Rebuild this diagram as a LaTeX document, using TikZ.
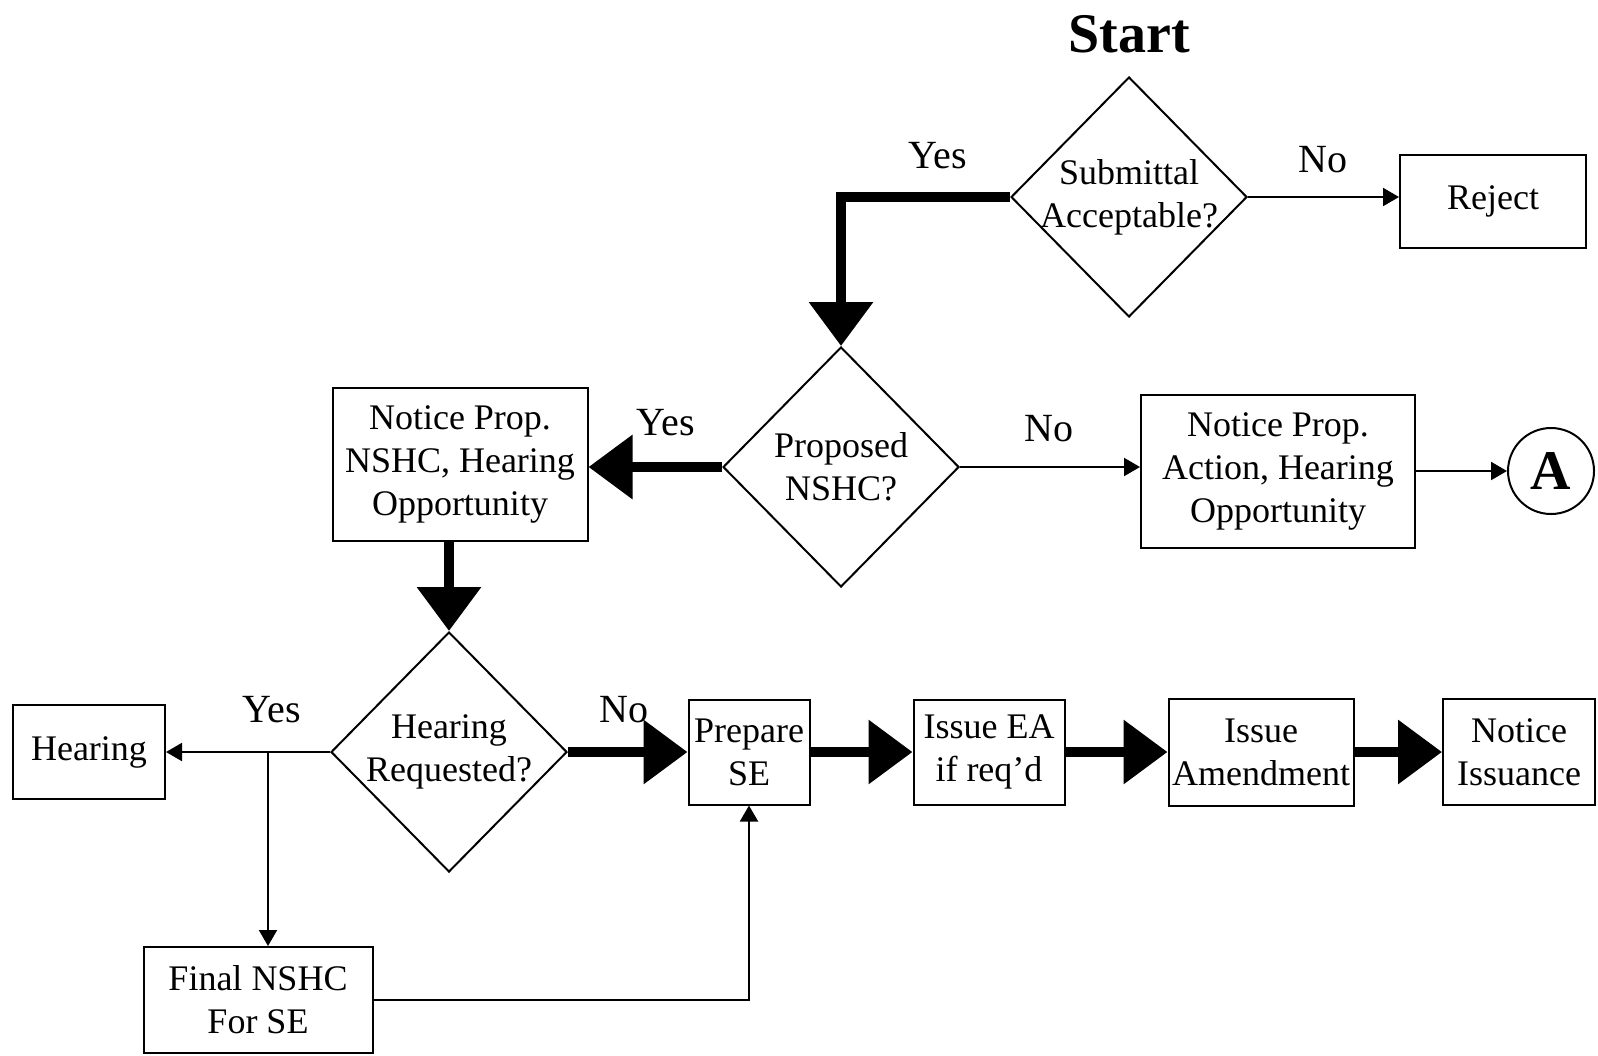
\documentclass[tikz,border=0pt]{standalone}
\usepackage{fontspec}
\setmainfont{Liberation Serif}
\usetikzlibrary{arrows.meta,shapes.geometric}

\begin{document}
\begin{tikzpicture}[
    x=0.5pt, y=-0.5pt,
    box/.style={draw, line width=1pt, align=center, inner sep=1pt, font=\fontsize{18}{21.5}\selectfont},
    decision/.style={draw, diamond, line width=1pt, inner sep=0pt, minimum width=118pt, minimum height=120pt},
    qtext/.style={align=center, font=\fontsize{18}{21.5}\selectfont},
    tag/.style={font=\fontsize{20}{20}\selectfont},
    arr/.style={-{Triangle[length=8pt,width=9pt]}, line width=1pt},
    heavy/.style={-{Triangle[length=22pt,width=31pt]}, line width=5pt}
  ]
  \useasboundingbox (0,0) rectangle (1598,1055);

  \node[font=\fontsize{28}{28}\selectfont\bfseries] (start) at (1129,34) {Start};
  \node[decision, label={[qtext]center:{Submittal\\Acceptable?}}] (submit) at (1129,197) {};
  \node[box, minimum width=93pt, minimum height=46.5pt] (reject) at (1493,201) {Reject};

  \node[decision, label={[qtext]center:{Proposed\\NSHC?}}] (propnshc) at (841,467) {};
  \node[box, minimum width=127.5pt, minimum height=76.5pt] (noticenshc) at (460,464) {Notice Prop.\\NSHC, Hearing\\Opportunity};
  \node[box, minimum width=137pt, minimum height=76.5pt] (noticeact) at (1278,471) {Notice Prop.\\Action, Hearing\\Opportunity};
  \node[draw, circle, line width=1pt, minimum size=43pt, inner sep=0pt, font=\fontsize{28}{28}\selectfont\bfseries] (conA) at (1551,471) {A};

  \node[decision, label={[qtext]center:{Hearing\\Requested?}}] (hearreq) at (449,752) {};
  \node[box, minimum width=76pt, minimum height=47pt] (hearing) at (89,752) {Hearing};
  \node[box, minimum width=114.5pt, minimum height=53pt] (finalnshc) at (258,1000) {Final NSHC\\For SE};
  \node[box, minimum width=60.5pt, minimum height=52.5pt] (prepare) at (749,752) {Prepare\\SE};
  \node[box, minimum width=75.5pt, minimum height=52.5pt] (issueea) at (989,752) {Issue EA\\if req'd};
  \node[box, minimum width=92.5pt, minimum height=53.5pt] (amend) at (1261,752) {Issue\\Amendment};
  \node[box, minimum width=76pt, minimum height=53pt] (issuance) at (1519,752) {Notice\\Issuance};

  % branch labels
  \node[tag] (yes1) at (938,156) {Yes};
  \node[tag] (no1) at (1323,160) {No};
  \node[tag] (yes2) at (666,423) {Yes};
  \node[tag] (no2) at (1049,429) {No};
  \node[tag] (yes3) at (272,710) {Yes};
  \node[tag] (no3) at (624,710) {No};

  \coordinate (split) at (268,752);

  \draw[heavy] (submit.west) -| (propnshc.north);
  \draw[arr] (submit.east) -- (submit.east -| reject.west);
  \draw[heavy] (propnshc.west) -- (propnshc.west -| noticenshc.east);
  \draw[arr] (propnshc.east) -- (propnshc.east -| noticeact.west);
  \draw[arr] (noticeact.east) -- (conA.west);
  \draw[heavy] (hearreq.north |- noticenshc.south) -- (hearreq.north);
  \draw[arr] (hearreq.west) -- (hearing.east);
  \draw[arr] (split) -- (split |- finalnshc.north);
  \draw[arr] (finalnshc.east) -| (prepare.south);
  \draw[heavy] (hearreq.east) -- (prepare.west);
  \draw[heavy] (prepare.east) -- (issueea.west);
  \draw[heavy] (issueea.east) -- (amend.west);
  \draw[heavy] (amend.east) -- (issuance.west);
\end{tikzpicture}
\end{document}
